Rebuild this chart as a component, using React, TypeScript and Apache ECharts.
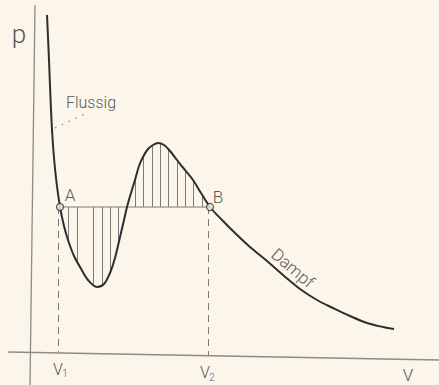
import React, { useEffect, useRef } from "react";
import * as echarts from "echarts";

// Isotherm (van der Waals): [V, p]
const isothermV = [1.5, 1.7, 1.9, 2.1, 2.4, 2.8, 3.2, 3.6, 4.2, 4.8, 5.6, 6.5, 7.2, 7.8, 8.3, 8.8, 9.2, 9.5, 9.9, 10.3, 10.7, 11.1, 11.6, 12.1, 12.6, 13.2, 13.8, 14.5, 15.3, 16.1, 16.9, 17.8, 19.0, 20.3, 21.8, 23.5, 25.1, 26.8, 28.5, 30.1, 31.8, 33.5, 35.1, 36.2];
const isothermP = [33.9, 29.4, 24.4, 20.9, 17.6, 14.7, 12.8, 11.4, 9.8, 8.7, 7.4, 6.7, 7.0, 8.1, 9.6, 11.7, 13.4, 14.7, 16.1, 17.4, 18.8, 19.7, 20.5, 20.9, 21.1, 20.9, 20.3, 19.4, 18.4, 17.4, 16.1, 14.7, 13.4, 12.1, 10.7, 9.3, 7.9, 6.5, 5.4, 4.6, 3.8, 3.1, 2.7, 2.5];

// Saturation pressure (Maxwell line) and the two volumes
const pSat = 14.7;
const V1 = 2.75;
const V2 = 17.75;

// Hatch lines between curve and Maxwell line
const hatchV = [3.6, 4.5, 6.1, 7.0, 7.8, 8.6, 10.3, 11.1, 12.0, 12.8, 13.6, 14.5, 15.3, 16.1, 17.0];
const hatchP = [11.4, 9.3, 7.0, 6.9, 8.1, 11.0, 17.4, 19.7, 20.8, 21.0, 20.5, 19.4, 18.4, 17.35, 16.0];

// Axis extents
const xMin = -2.4, xMax = 40.7, yMin = -3.1, yMax = 34.9;

const BG = "#fbf5ea";
const INK = "#2e2e2e";
const GREY = "#8c8c8c";
const TXT = "#5a5a5a";
const FONT = "Roboto";

export default function App() {
  const ref = useRef<HTMLDivElement>(null);
  useEffect(() => {
    if (!ref.current) return;
    const chart = echarts.init(ref.current, undefined, { renderer: "svg" });
    const curve = isothermV.map((v, i) => [v, isothermP[i]]);
    const txt = (text: string, x: number, y: number, size: number, extra: any = {}) => ({
      type: "text",
      x,
      y,
      ...extra,
      style: {
        text,
        fill: TXT,
        fontFamily: FONT,
        fontWeight: 300,
        fontSize: size,
        align: "center",
        verticalAlign: "middle",
      },
    });
    chart.setOption({
      animation: false,
      backgroundColor: BG,
      grid: { left: 8, right: 0, top: 5, bottom: 0 },
      xAxis: { type: "value", min: xMin, max: xMax, show: false },
      yAxis: { type: "value", min: yMin, max: yMax, show: false },
      series: [
        {
          type: "line",
          name: "p-axis",
          data: [[0.3, yMax], [-0.2, yMin]],
          symbol: "none",
          lineStyle: { color: GREY, width: 1.3 },
        },
        {
          type: "line",
          name: "V-axis",
          data: [[xMin, 0.2], [xMax, -0.6]],
          symbol: "none",
          lineStyle: { color: GREY, width: 1.3 },
        },
        {
          type: "lines",
          coordinateSystem: "cartesian2d",
          data: hatchV.map((v, i) => ({ coords: [[v, hatchP[i]], [v, pSat]] })),
          lineStyle: { color: "#7a7a7a", width: 1, opacity: 1 },
        },
        {
          type: "line",
          name: "maxwell",
          data: [[V1, pSat], [V2, pSat]],
          symbol: "none",
          lineStyle: { color: "#7a7a7a", width: 1 },
        },
        {
          type: "lines",
          coordinateSystem: "cartesian2d",
          data: [
            { coords: [[V1 - 0.15, pSat], [V1 - 0.15, 0.1]] },
            { coords: [[V2 - 0.1, pSat], [V2 - 0.1, -0.15]] },
          ],
          lineStyle: { color: "#777", width: 1, type: [7, 5], opacity: 1 },
        },
        {
          type: "line",
          name: "leader",
          data: [[2.3, 22.6], [5.5, 24.1]],
          symbol: "none",
          lineStyle: { color: "#888", width: 1.2, type: [1.5, 6] },
        },
        {
          type: "line",
          name: "isotherm",
          data: curve,
          smooth: 0.35,
          symbol: "none",
          lineStyle: { color: INK, width: 2 },
        },
        {
          type: "scatter",
          data: [[V1 + 0.05, pSat], [V2 + 0.05, pSat]],
          symbol: "circle",
          symbolSize: 7,
          itemStyle: { color: BG, borderColor: INK, borderWidth: 1.3 },
          z: 5,
        },
      ],
      graphic: [
        txt("p", 19, 34, 26),
        txt("Flussig", 91, 102, 16),
        txt("A", 70, 195, 17),
        txt("B", 218, 197, 17),
        txt("Dampf", 293, 268, 17, { rotation: -0.71 }),
        txt("V", 58, 369, 16),
        txt("1", 65, 373, 10),
        txt("V", 205, 372, 16),
        txt("2", 212, 377, 10),
        txt("V", 408, 375, 17),
      ],
    });
    return () => chart.dispose();
  }, []);
  return (
    <div
      ref={ref}
      style={{ position: "fixed", left: 0, top: 0, width: 439, height: 385 }}
    />
  );
}
